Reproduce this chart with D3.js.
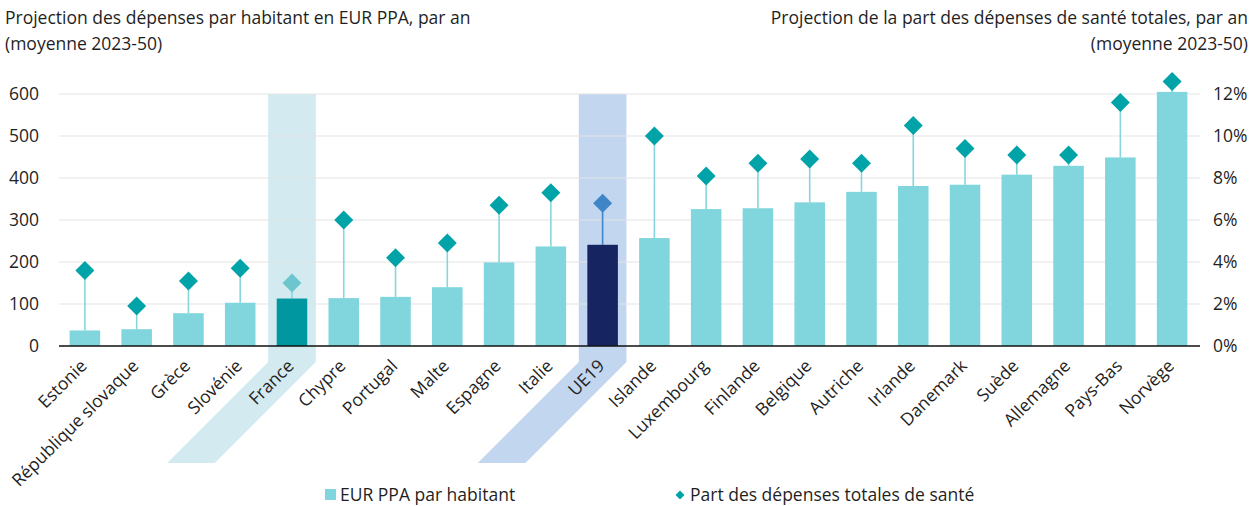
<!DOCTYPE html>
<html lang="fr">
<head>
<meta charset="utf-8">
<script src="https://cdn.jsdelivr.net/npm/d3@7/dist/d3.min.js"></script>
<style>
  html, body { margin: 0; padding: 0; background: #ffffff; }
  svg { display: block; font-family: "Open Sans", "Noto Sans", sans-serif; }
</style>
</head>
<body>
<svg id="chart" width="1251" height="506"></svg>
<script>
// Pays / agrégat, triés par dépense par habitant
const categories = ["Estonie", "République slovaque", "Grèce", "Slovénie", "France", "Chypre",
  "Portugal", "Malte", "Espagne", "Italie", "UE19", "Islande", "Luxembourg", "Finlande",
  "Belgique", "Autriche", "Irlande", "Danemark", "Suède", "Allemagne", "Pays-Bas", "Norvège"];

// Dépenses projetées par habitant, EUR PPA par an (moyenne 2023-50)
const eurPpa = [37, 40, 78, 103, 113, 114, 117, 140, 199, 237, 241, 257, 326, 328, 342, 367,
  381, 384, 408, 429, 449, 605];

// Part des dépenses de santé totales, % par an (moyenne 2023-50)
const shareTotal = [3.6, 1.9, 3.1, 3.7, 3.0, 6.0, 4.2, 4.9, 6.7, 7.3, 6.8, 10.0, 8.1, 8.7,
  8.9, 8.7, 10.5, 9.4, 9.1, 9.1, 11.6, 12.6];

const leftTicks = [0, 100, 200, 300, 400, 500, 600];
const rightTicks = [0, 2, 4, 6, 8, 10, 12];
const highlighted = ["France", "UE19"];

const FS = 17.5;
const svg = d3.select("#chart");
const plot = { left: 59, right: 1198, top: 94, bottom: 346 };

const x = d3.scaleBand().domain(categories)
  .range([plot.left, plot.right]).paddingInner(0.41).paddingOuter(0.205);
const yL = d3.scaleLinear().domain([0, 600]).range([plot.bottom, plot.top]);
const yR = d3.scaleLinear().domain([0, 12]).range([plot.bottom, plot.top]);

const colors = {
  bar: "#80d6dc", barFrance: "#0097a1", barEU: "#172462",
  dot: "#00a3a8", dotFrance: "#6bc6cd", dotEU: "#3f86c9",
  stem: "#86d7dd", stemEU: "#3f86c9",
  bandFrance: "#d3eaf0", bandEU: "#c3d6ef",
  grid: "#e3e3e3", text: "#1f1f1f"
};

// Bandes de mise en évidence (verticales puis obliques sous l'axe)
const bandW = x.step() * 0.92;
const slant = 101;
const bandBreak = plot.bottom + 16;
highlighted.forEach(name => {
  const cx = x(name) + x.bandwidth() / 2;
  const l = cx - bandW / 2, r = cx + bandW / 2;
  const p = d3.path();
  p.moveTo(l, plot.top);
  p.lineTo(r, plot.top);
  p.lineTo(r, bandBreak);
  p.lineTo(r - slant, bandBreak + slant);
  p.lineTo(l - slant, bandBreak + slant);
  p.lineTo(l, bandBreak);
  p.closePath();
  svg.append("path").attr("d", p.toString())
    .attr("fill", name === "France" ? colors.bandFrance : colors.bandEU);
});

// Quadrillage
svg.append("g").selectAll("line").data(leftTicks.slice(1)).join("line")
  .attr("x1", plot.left).attr("x2", plot.right + 2)
  .attr("y1", d => yL(d)).attr("y2", d => yL(d))
  .attr("stroke", colors.grid).attr("stroke-width", 1);

// Axe gauche
const axisL = svg.append("g").attr("transform", `translate(${plot.left - 20},0)`)
  .call(d3.axisLeft(yL).tickValues(leftTicks).tickSize(0).tickPadding(0));
axisL.select(".domain").remove();
axisL.selectAll("text").attr("font-size", FS).attr("fill", colors.text)
  .attr("font-family", "Open Sans, sans-serif");

// Axe droit
const axisR = svg.append("g").attr("transform", `translate(${plot.right + 15},0)`)
  .call(d3.axisRight(yR).tickValues(rightTicks).tickSize(0).tickPadding(0)
    .tickFormat(d => d + "%"));
axisR.select(".domain").remove();
axisR.selectAll("text").attr("font-size", FS).attr("fill", colors.text)
  .attr("font-family", "Open Sans, sans-serif");

const rows = categories.map((c, i) => ({ c, v: eurPpa[i], s: shareTotal[i] }));

// Tiges reliant barre et losange
svg.append("g").selectAll("line").data(rows).join("line")
  .attr("x1", d => x(d.c) + x.bandwidth() / 2).attr("x2", d => x(d.c) + x.bandwidth() / 2)
  .attr("y1", d => yL(d.v)).attr("y2", d => yR(d.s))
  .attr("stroke", d => d.c === "UE19" ? colors.stemEU : colors.stem)
  .attr("stroke-width", 1.6);

// Barres
svg.append("g").selectAll("rect").data(rows).join("rect")
  .attr("x", d => x(d.c)).attr("width", x.bandwidth())
  .attr("y", d => yL(d.v)).attr("height", d => yL(0) - yL(d.v))
  .attr("fill", d => d.c === "France" ? colors.barFrance : d.c === "UE19" ? colors.barEU : colors.bar);

// Losanges
const diamond = d3.symbol().type(d3.symbolSquare).size(180);
svg.append("g").selectAll("path").data(rows).join("path")
  .attr("d", diamond)
  .attr("transform", d => `translate(${x(d.c) + x.bandwidth() / 2},${yR(d.s)}) rotate(45)`)
  .attr("fill", d => d.c === "France" ? colors.dotFrance : d.c === "UE19" ? colors.dotEU : colors.dot);

// Ligne de base
svg.append("line").attr("x1", plot.left).attr("x2", plot.right + 2)
  .attr("y1", yL(0)).attr("y2", yL(0)).attr("stroke", "#111").attr("stroke-width", 1.5);

// Libellés des catégories
svg.append("g").selectAll("text").data(categories).join("text")
  .attr("transform", d => `translate(${x(d) + x.bandwidth() / 2 + 3},${plot.bottom + 21}) rotate(-45)`)
  .attr("text-anchor", "end")
  .attr("font-size", FS).attr("fill", colors.text)
  .text(d => d);

// Titres des axes
const titleL = svg.append("text").attr("x", 5).attr("y", 24).attr("font-size", FS).attr("fill", colors.text);
titleL.append("tspan").attr("x", 5).text("Projection des dépenses par habitant en EUR PPA, par an");
titleL.append("tspan").attr("x", 5).attr("dy", 26).text("(moyenne 2023-50)");

const titleR = svg.append("text").attr("x", 1248).attr("y", 24).attr("font-size", FS)
  .attr("text-anchor", "end").attr("fill", colors.text);
titleR.append("tspan").attr("x", 1248).text("Projection de la part des dépenses de santé totales, par an");
titleR.append("tspan").attr("x", 1248).attr("dy", 26).text("(moyenne 2023-50)");

// Légende
const legend = svg.append("g");
legend.append("rect").attr("x", 325).attr("y", 489).attr("width", 11).attr("height", 11).attr("fill", colors.bar);
legend.append("text").attr("x", 340).attr("y", 501).attr("font-size", FS).attr("fill", colors.text)
  .text("EUR PPA par habitant");
legend.append("path").attr("d", d3.symbol().type(d3.symbolSquare).size(40))
  .attr("transform", "translate(680,495) rotate(45)").attr("fill", colors.dot);
legend.append("text").attr("x", 690).attr("y", 501).attr("font-size", FS).attr("fill", colors.text)
  .text("Part des dépenses totales de santé");
</script>
</body>
</html>
